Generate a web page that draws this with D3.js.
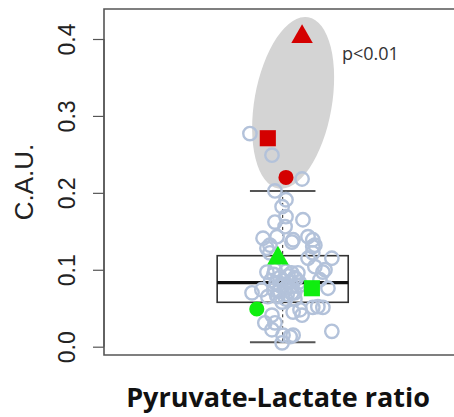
<!DOCTYPE html>
<html>
<head>
<meta charset="utf-8">
<script src="https://cdn.jsdelivr.net/npm/d3@7"></script>
<style>
  html, body { margin: 0; padding: 0; background: #fff; }
  svg { display: block; }
</style>
</head>
<body>
<svg id="chart" width="454" height="417"></svg>
<script>
// C.A.U. values for the whole cohort (open circles) and their horizontal jitter
const cohortValues = [
  0.277, 0.249, 0.218, 0.2025, 0.191, 0.182, 0.169, 0.165, 0.162, 0.156,
  0.141, 0.139, 0.143, 0.130, 0.122, 0.143, 0.128, 0.115, 0.122, 0.132,
  0.136, 0.132, 0.115, 0.097, 0.087, 0.104, 0.097, 0.074, 0.070, 0.065,
  0.065, 0.070, 0.090, 0.092, 0.088, 0.082, 0.080, 0.078, 0.080, 0.072,
  0.068, 0.062, 0.086, 0.084, 0.058, 0.096, 0.100, 0.045, 0.041, 0.051,
  0.041, 0.031, 0.031, 0.022, 0.015, 0.015, 0.005, 0.020, 0.051, 0.076,
  0.052, 0.048, 0.013, 0.100, 0.139,
  0.094, 0.086, 0.076, 0.070, 0.090, 0.098, 0.074, 0.062, 0.084, 0.066,
  0.096, 0.079
];
const cohortJitter = [
  -0.110, -0.036, 0.065, -0.026, 0.011, -0.002, 0.011, 0.068, -0.026, 0.008,
  -0.066, 0.035, 0.085, 0.101, 0.101, -0.019, -0.053, 0.165, -0.043, -0.043,
  0.031, 0.108, 0.085, 0.135, 0.125, 0.108, -0.053, -0.070, -0.103, -0.050,
  -0.016, 0.031, -0.009, 0.018, 0.045, -0.022, 0.004, 0.031, 0.058, -0.012,
  0.015, 0.041, 0.001, 0.025, -0.002, 0.051, -0.026, 0.035, 0.065, 0.101,
  -0.036, -0.026, -0.060, -0.036, 0.001, 0.035, -0.002, 0.165, 0.135, 0.152,
  0.118, 0.058, 0.025, 0.142, 0.101,
  -0.030, -0.040, 0.008, 0.040, 0.040, 0.010, -0.030, 0.010, 0.055, -0.020,
  0.030, -0.008
];

// Boxplot summary of the cohort
const boxStats = { lowerWhisker: 0.0057, q1: 0.0577, median: 0.0832, q3: 0.1183, upperWhisker: 0.2025 };

// Highlighted cases: high group (red) and low group (green)
const highCases = [
  { shape: "triangle", value: 0.403, jitter: 0.065 },
  { shape: "square",   value: 0.271, jitter: -0.050 },
  { shape: "circle",   value: 0.220, jitter: 0.011 }
];
const lowCases = [
  { shape: "triangle", value: 0.115, jitter: -0.016 },
  { shape: "square",   value: 0.076, jitter: 0.098 },
  { shape: "circle",   value: 0.049, jitter: -0.087 }
];

// Ellipse marking the high group
const groupEllipse = { cx: 1.035, cy: 0.317, rx: 0.13, ry: 0.113, angle: 10 };

const yTicks = [0.0, 0.1, 0.2, 0.3, 0.4];
const yLabel = "C.A.U.";
const xLabel = "Pyruvate-Lactate ratio";
const annotation = "p<0.01";

const svg = d3.select("#chart");
const plot = { left: 104, right: 461.4, top: 9, bottom: 355 };

const x = d3.scaleLinear().domain([0.4, 1.6]).range([plot.left, plot.right]);
const y = d3.scaleLinear().domain([-0.0108, 0.439]).range([plot.bottom, plot.top]);

// group ellipse
svg.append("ellipse")
  .attr("cx", 0).attr("cy", 0)
  .attr("rx", x(groupEllipse.rx) - x(0))
  .attr("ry", y(0) - y(groupEllipse.ry))
  .attr("transform", `translate(${x(groupEllipse.cx)},${y(groupEllipse.cy)}) rotate(${groupEllipse.angle})`)
  .attr("fill", "#d4d4d4");

// boxplot
const boxHalf = 0.22, capHalf = 0.11;
const g = svg.append("g");
g.append("line")
  .attr("x1", x(1)).attr("x2", x(1))
  .attr("y1", y(boxStats.upperWhisker)).attr("y2", y(boxStats.q3))
  .attr("stroke", "#222").attr("stroke-width", 1).attr("stroke-dasharray", "3,3");
g.append("line")
  .attr("x1", x(1)).attr("x2", x(1))
  .attr("y1", y(boxStats.q1)).attr("y2", y(boxStats.lowerWhisker))
  .attr("stroke", "#222").attr("stroke-width", 1).attr("stroke-dasharray", "3,3");
[boxStats.upperWhisker, boxStats.lowerWhisker].forEach(v => {
  g.append("line")
    .attr("x1", x(1 - capHalf)).attr("x2", x(1 + capHalf))
    .attr("y1", y(v)).attr("y2", y(v))
    .attr("stroke", "#555").attr("stroke-width", 2);
});
g.append("rect")
  .attr("x", x(1 - boxHalf)).attr("width", x(1 + boxHalf) - x(1 - boxHalf))
  .attr("y", y(boxStats.q3)).attr("height", y(boxStats.q1) - y(boxStats.q3))
  .attr("fill", "none").attr("stroke", "#333").attr("stroke-width", 1.6);
g.append("line")
  .attr("x1", x(1 - boxHalf)).attr("x2", x(1 + boxHalf))
  .attr("y1", y(boxStats.median)).attr("y2", y(boxStats.median))
  .attr("stroke", "#111").attr("stroke-width", 3.2);

// cohort points
const cohort = cohortValues.map((v, i) => ({ value: v, jitter: cohortJitter[i] }));
svg.append("g").selectAll("circle")
  .data(cohort)
  .join("circle")
  .attr("cx", d => x(1 + d.jitter))
  .attr("cy", d => y(d.value))
  .attr("r", 6.7)
  .attr("fill", "none")
  .attr("stroke", "#b3c2da")
  .attr("stroke-width", 2.4);

// highlighted cases
const symbolType = { triangle: d3.symbolTriangle, square: d3.symbolSquare, circle: d3.symbolCircle };
const symbolSize = { triangle: 200, square: 260, circle: 180 };
function drawCases(cases, color) {
  svg.append("g").selectAll("path")
    .data(cases)
    .join("path")
    .attr("d", d => d3.symbol(symbolType[d.shape], symbolSize[d.shape])())
    .attr("transform", d => `translate(${x(1 + d.jitter)},${y(d.value)})`)
    .attr("fill", color);
}
drawCases(highCases, "#d40000");
drawCases(lowCases, "#0fee0f");

// frame (right edge falls outside the view)
svg.append("path")
  .attr("d", `M${plot.right},${plot.top}H${plot.left}V${plot.bottom}H${plot.right}`)
  .attr("fill", "none").attr("stroke", "#555").attr("stroke-width", 1.6);

// y axis
const yAxis = svg.append("g")
  .attr("transform", `translate(${plot.left - 11},0)`)
  .call(d3.axisLeft(y).tickValues(yTicks).tickFormat(d3.format(".1f")).tickSize(0).tickPadding(0));
yAxis.select(".domain").attr("d", `M11,${y(0)}V${y(0.4)}`).attr("stroke", "#555").attr("stroke-width", 1.2);
yAxis.selectAll(".tick line").attr("x1", 0).attr("x2", 11).attr("stroke", "#555").attr("stroke-width", 1.2);
yAxis.selectAll(".tick text")
  .attr("transform", "rotate(-90)")
  .attr("x", 0).attr("y", -18)
  .attr("dy", 0)
  .attr("text-anchor", "middle")
  .attr("font-family", "'Liberation Sans', Arial, sans-serif")
  .attr("font-size", 23)
  .attr("fill", "#222");

svg.append("text")
  .attr("transform", `translate(33,${(plot.top + plot.bottom) / 2}) rotate(-90)`)
  .attr("text-anchor", "middle")
  .attr("font-family", "'Liberation Sans', Arial, sans-serif")
  .attr("font-size", 26)
  .attr("fill", "#222")
  .text(yLabel);

// x label
svg.append("text")
  .attr("x", 278).attr("y", 407)
  .attr("text-anchor", "middle")
  .attr("font-family", "'Open Sans', sans-serif")
  .attr("font-weight", "bold")
  .attr("font-size", 27)
  .attr("fill", "#111")
  .text(xLabel);

// significance annotation
svg.append("text")
  .attr("x", 342).attr("y", 60)
  .attr("font-family", "'Open Sans', sans-serif")
  .attr("font-size", 18)
  .attr("fill", "#333")
  .text(annotation);
</script>
</body>
</html>
